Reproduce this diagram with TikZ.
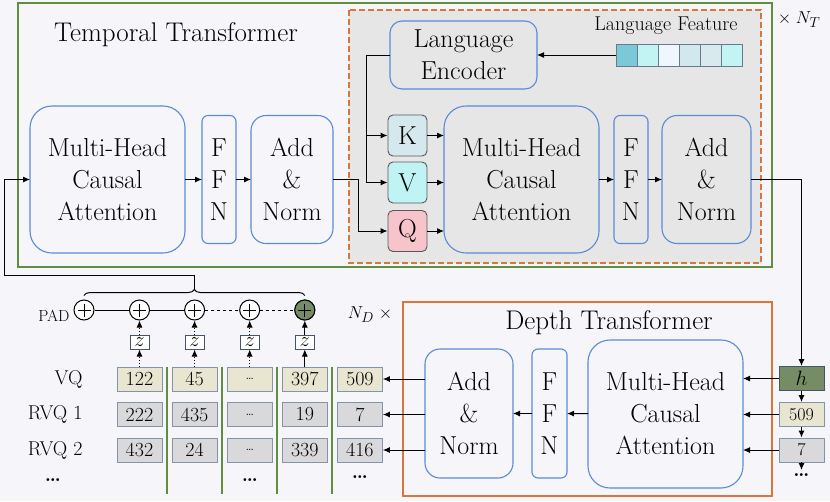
\documentclass[tikz,border=0pt]{standalone}
\usepackage{amsmath}
\usetikzlibrary{arrows.meta,positioning,calc,decorations.pathreplacing}
\definecolor{bgGray}{HTML}{F5F5FA}
\definecolor{tfGreen}{HTML}{5E8E3E}
\definecolor{lnOrange}{HTML}{D9763A}
\definecolor{blkBlue}{HTML}{5B8BD6}
\definecolor{lnFill}{HTML}{E6E6E6}
\definecolor{cellBeige}{HTML}{E8E6D0}
\definecolor{cellGray}{HTML}{D9D9DB}
\definecolor{cellEdge}{HTML}{8494A8}
\definecolor{zEdge}{HTML}{44546A}
\definecolor{hGreen}{HTML}{758C65}
\definecolor{kFill}{HTML}{D5E8EE}
\definecolor{vFill}{HTML}{C0F4F4}
\definecolor{qFill}{HTML}{F8C4CC}
\definecolor{featEdge}{HTML}{6A7A8C}
\definecolor{feat1}{HTML}{7AC8D8}
\definecolor{feat2}{HTML}{C2F4F4}
\definecolor{feat3}{HTML}{EEF6FE}
\definecolor{feat4}{HTML}{D0E8EE}
\definecolor{feat5}{HTML}{D8EAEE}
\definecolor{feat6}{HTML}{C2F4F4}

\begin{document}
\begin{tikzpicture}[x=1pt,y=-1pt,
  blk/.style={draw=blkBlue,line width=1.1pt,align=center,inner sep=0pt,outer sep=0pt,font=\fontsize{26}{32}\selectfont},
  kvq/.style={draw=black!65,line width=0.9pt,rounded corners=5pt,minimum width=39pt,minimum height=41pt,inner sep=0pt,font=\fontsize{26}{28}\selectfont},
  cell/.style={draw=cellEdge,line width=0.9pt,minimum width=45pt,minimum height=24pt,inner sep=0pt,font=\fontsize{20}{20}\selectfont},
  featcell/.style={draw=featEdge,line width=0.9pt,minimum width=21pt,minimum height=22pt,inner sep=0pt},
  zbox/.style={draw=zEdge,fill=white,line width=1pt,minimum width=19pt,minimum height=14pt,inner sep=0pt,font=\fontsize{20}{20}\selectfont},
  sumnode/.style={circle,draw,fill=white,line width=1pt,minimum size=20pt,inner sep=0pt,
    path picture={\draw[line width=1pt] ([xshift=-6.5pt]path picture bounding box.center) -- ([xshift=6.5pt]path picture bounding box.center)
      ([yshift=-6.5pt]path picture bounding box.center) -- ([yshift=6.5pt]path picture bounding box.center);}},
  arr/.style={-{Latex[length=7pt,width=6pt]},line width=1pt},
  lbl/.style={font=\fontsize{20}{20}\selectfont},
  title/.style={font=\fontsize{27}{30}\selectfont}]

  % canvas
  \fill[bgGray] (0,0) rectangle (830,501);
  \useasboundingbox (0,0) rectangle (830,501);

  % temporal transformer frame
  \draw[tfGreen,line width=1.4pt] (18,3) rectangle (772,267);
  \draw[lnOrange,line width=1.2pt,dash pattern=on 6pt off 3pt,fill=lnFill] (349,10) rectangle (761,263);
  \node[title] (tTitle) at (176,35) {Temporal Transformer};
  \node[font=\fontsize{19}{20}\selectfont] (nT) at (799,20) {$\times\; N_T$};

  \node[blk,rounded corners=22pt,minimum width=155pt,minimum height=147pt] (mhaT) at (107.5,179.5) {Multi-Head\\Causal\\Attention};
  \node[blk,rounded corners=6pt,minimum width=34pt,minimum height=128pt] (ffnT) at (219,179.5) {F\\F\\N};
  \node[blk,rounded corners=15pt,minimum width=82pt,minimum height=128pt] (anT) at (292,179.5) {Add\\\&\\Norm};

  % language branch
  \node[blk,rounded corners=12pt,minimum width=147pt,minimum height=68pt] (lenc) at (463.5,55) {Language\\Encoder};
  \node[font=\fontsize{20}{22}\selectfont] (featTitle) at (666,26) {Language Feature};
  \foreach \i in {1,...,6}
    \node[featcell,fill=feat\i] (feat\i) at ({626.5+21*(\i-1)},55) {};
  \draw[arr] (feat1.west) -- (lenc.east);

  \node[kvq,fill=kFill] (kT) at (407.5,135.5) {K};
  \node[kvq,fill=vFill] (vT) at (407.5,182.5) {V};
  \node[kvq,fill=qFill] (qT) at (407.5,231) {Q};

  \node[blk,rounded corners=22pt,minimum width=155pt,minimum height=147pt] (mhaL) at (521.5,179.5) {Multi-Head\\Causal\\Attention};
  \node[blk,rounded corners=6pt,minimum width=34pt,minimum height=128pt] (ffnL) at (631,179.5) {F\\F\\N};
  \node[blk,rounded corners=15pt,minimum width=89pt,minimum height=128pt] (anL) at (706.5,179.5) {Add\\\&\\Norm};

  \draw[arr] (mhaT) -- (ffnT);
  \draw[arr] (ffnT) -- (anT);
  \draw[arr] (anT.east) -- ++(25,0) |- (qT.west);
  \draw (lenc.west) -- ++(-24,0) coordinate (lsplit);
  \draw[arr] (lsplit) |- (kT.west);
  \draw[arr] (lsplit) |- (vT.west);
  \foreach \n in {kT,vT,qT}
    \draw[arr] (\n.east) -- (\n.east -| mhaL.west);
  \draw[arr] (mhaL) -- (ffnL);
  \draw[arr] (ffnL) -- (anL);

  % token grid
  \node[anchor=east,lbl] (rowVQ) at (86,379) {VQ};
  \node[anchor=east,lbl] (rowR1) at (86,414) {RVQ 1};
  \node[anchor=east,lbl] (rowR2) at (86,450) {RVQ 2};
  \node[lbl] (dotsL) at (53,480) {\textbf{\dots}};
  \foreach \v [count=\i] in {122,45,{\fontsize{13}{13}\selectfont\dots},397,509}
    \node[cell,fill=cellBeige] (c1\i) at ({139.5+55.1*(\i-1)},379) {\v};
  \foreach \v [count=\i] in {222,435,{\fontsize{13}{13}\selectfont\dots},19,7}
    \node[cell,fill=cellGray] (c2\i) at ({139.5+55.1*(\i-1)},414.5) {\v};
  \foreach \v [count=\i] in {432,24,{\fontsize{13}{13}\selectfont\dots},339,416}
    \node[cell,fill=cellGray] (c3\i) at ({139.5+55.1*(\i-1)},450) {\v};
  \node[lbl] (dotsC3) at (250,480) {\textbf{\dots}};
  \node[lbl] (dotsC5) at (360,477) {\textbf{\dots}};
  \foreach \x in {167,222,277,332}
    \draw[tfGreen,line width=1.2pt] (\x,367) -- (\x,494);

  % embedding sums
  \node[sumnode] (s0) at (84,310) {};
  \node[anchor=east,font=\fontsize{16}{16}\selectfont] (padLbl) at (73,316) {PAD};
  \foreach \i in {1,...,4} {
    \node[sumnode] (s\i) at (c1\i |- s0) {};
    \node[zbox] (z\i) at ($(c1\i)+(0,-37)$) {$z$};
  }
  \node[sumnode,fill=hGreen] (s4) at (c14 |- s0) {};
  \draw[line width=1pt] (s0) -- (s1) -- (s2);
  \draw[line width=1pt,dashed] (s2) -- (s3) -- (s4);
  \foreach \i in {1,2,3} {
    \draw[arr,dotted] (c1\i.north) -- (z\i.south);
    \draw[arr,dotted] (z\i.north) -- (s\i.south);
  }
  \draw[arr] (c14.north) -- (z4.south);
  \draw[arr] (z4.north) -- (s4.south);

  % feedback into temporal transformer
  \draw[line width=1pt,decorate,decoration={brace,amplitude=6pt}] ($(s0.north)+(0,-4)$) -- ($(s4.north)+(0,-4)$);
  \coordinate (braceTip) at ($(s0.north)!0.5!(s4.north)+(0,-11)$);
  \coordinate (loopA) at (4,275);
  \draw[arr] (braceTip) |- (loopA) |- (mhaT.west);

  % depth transformer
  \draw[lnOrange,line width=1.3pt] (403,302) rectangle (772,496);
  \node[title] (dTitle) at (609,323) {Depth Transformer};
  \node[font=\fontsize{19}{20}\selectfont] (nD) at (370,315) {$N_D\;\times$};
  \node[blk,rounded corners=15pt,minimum width=88pt,minimum height=129pt] (anD) at (469,413.5) {Add\\\&\\Norm};
  \node[blk,rounded corners=6pt,minimum width=35pt,minimum height=129pt] (ffnD) at (549.5,413.5) {F\\F\\N};
  \node[blk,rounded corners=22pt,minimum width=155pt,minimum height=148pt] (mhaD) at (665.5,414) {Multi-Head\\Causal\\Attention};
  \draw[arr] (mhaD) -- (ffnD);
  \draw[arr] (ffnD) -- (anD);

  \node[cell,fill=hGreen,draw=zEdge,font=\fontsize{21}{22}\selectfont] (hTok) at (801.5,378.5) {$h$};
  \node[cell,fill=cellBeige,font=\fontsize{18}{18}\selectfont] (r509) at (801.5,414.5) {509};
  \node[cell,fill=cellGray,font=\fontsize{18}{18}\selectfont] (r7) at (801.5,450) {7};
  \node[lbl,anchor=north] (dotsR) at (801.5,470) {\textbf{\dots}};
  \draw[arr] (anL.east) -| (hTok.north);
  \draw[arr] (hTok) -- (r509);
  \draw[arr] (r509) -- (r7);
  \draw[arr] (r7.south) -- (dotsR.north);
  \foreach \n in {hTok,r509,r7}
    \draw[arr] (\n.west) -- (\n.west -| mhaD.east);
  \foreach \r in {1,2,3}
    \draw[arr] (c\r5.east -| anD.west) -- (c\r5.east);
\end{tikzpicture}
\end{document}
